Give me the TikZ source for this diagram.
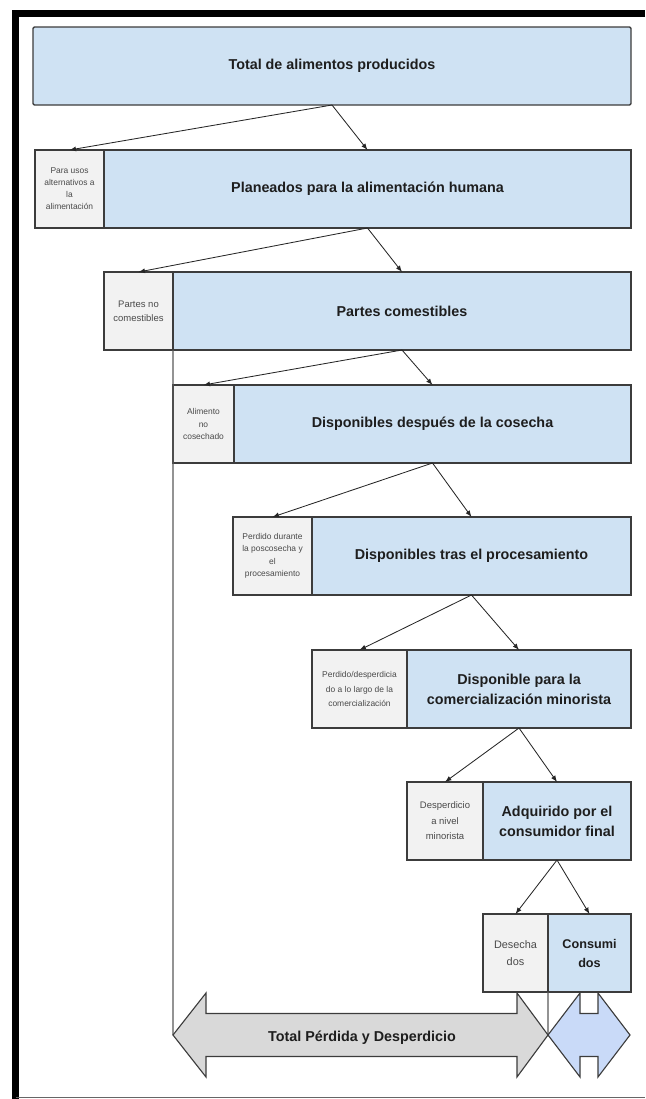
\documentclass[tikz,border=0pt]{standalone}
\usepackage{fontspec}
\setmainfont{Liberation Sans}
\usepackage{xcolor}
\usepackage{tikz}
\usetikzlibrary{arrows.meta,calc,positioning}

\definecolor{boxblue}{HTML}{CFE2F3}
\definecolor{boxgray}{HTML}{F2F2F2}
\definecolor{lossgray}{HTML}{D9D9D9}
\definecolor{eatblue}{HTML}{C9DAF8}
\definecolor{edgegray}{HTML}{3C3C3C}
\definecolor{textdark}{HTML}{1E1E1E}
\definecolor{textgray}{HTML}{4A4A4A}

\begin{document}
\begin{tikzpicture}[>=latex]
\tikzstyle{mainbox}=[rectangle,draw=edgegray,line width=1pt,fill=boxblue,minimum height=1.95cm,
                     inner sep=2pt,outer sep=0pt,align=center,anchor=north west,text=textdark,
                     font=\bfseries\fontsize{10.2}{14.2}\selectfont]
\tikzstyle{lossbox}=[rectangle,draw=edgegray,line width=1pt,fill=boxgray,minimum height=1.95cm,
                     inner sep=1pt,outer sep=0pt,align=center,anchor=north west,text=textgray,
                     font=\fontsize{6}{8.9}\selectfont]
\tikzstyle{arrow}=[->,line width=0.6pt,black!85]
\tikzstyle{rail}=[line width=0.8pt,black!65]

\useasboundingbox (0,0) rectangle (16.125,-27.475);

% --- Frame ---
\draw[line width=5pt,miter limit=10] (16.125,-0.3375) -- (0.3875,-0.3375) -- (0.3875,-27.475);
\draw[line width=0.7pt,black!60] (0.3875,-27.425) -- (16.125,-27.425);

% --- Total ---
\node[mainbox,minimum width=14.95cm,rounded corners=1pt] (total) at (0.825,-0.675) {Total de alimentos producidos};

% --- Planned for humans ---
\node[lossbox,minimum width=1.725cm,font=\fontsize{6}{8.5}\selectfont] (alt) at (0.875,-3.75)
  {Para usos\\alternativos a\\la\\alimentación};
\node[mainbox,minimum width=13.175cm] (planned) at (alt.north east) {Planeados para la alimentación humana};

% --- Edible parts ---
\node[lossbox,minimum width=1.725cm,font=\fontsize{6.75}{10}\selectfont] (inedible) at (2.6,-6.8)
  {Partes no\\comestibles};
\node[mainbox,minimum width=11.45cm] (edible) at (inedible.north east) {Partes comestibles};

% --- After harvest ---
\node[lossbox,minimum width=1.525cm] (unharvested) at (4.325,-9.625)
  {Alimento\\no\\cosechado};
\node[mainbox,minimum width=9.925cm] (harvest) at (unharvested.north east) {Disponibles después de la cosecha};

% --- After processing ---
\node[lossbox,minimum width=1.975cm] (postharvest) at (5.825,-12.925)
  {Perdido durante\\la poscosecha y\\el\\procesamiento};
\node[mainbox,minimum width=7.975cm] (processed) at (postharvest.north east) {Disponibles tras el procesamiento};

% --- Retail ---
\node[lossbox,minimum width=2.375cm,font=\fontsize{6}{10}\selectfont] (distribution) at (7.8,-16.25)
  {Perdido/desperdicia\\do a lo largo de la\\comercialización};
\node[mainbox,minimum width=5.6cm] (retail) at (distribution.north east)
  {Disponible para la\\comercialización minorista};

% --- Consumer ---
\node[lossbox,minimum width=1.9cm,font=\fontsize{6.75}{11}\selectfont] (retailwaste) at (10.175,-19.55)
  {Desperdicio\\a nivel\\minorista};
\node[mainbox,minimum width=3.7cm] (consumer) at (retailwaste.north east)
  {Adquirido por el\\consumidor final};

% --- Final split ---
\node[lossbox,minimum width=1.625cm,font=\fontsize{7.75}{12}\selectfont] (discarded) at (12.075,-22.85)
  {Desecha\\dos};
\node[mainbox,minimum width=2.075cm,font=\bfseries\fontsize{9}{13.5}\selectfont] (eaten) at (discarded.north east)
  {Consumi\\dos};

% --- Arrows ---
\draw[arrow] (total.south) -- (alt.north);
\draw[arrow] (total.south) -- (planned.north);
\draw[arrow] (planned.south) -- (inedible.north);
\draw[arrow] (planned.south) -- (edible.north);
\draw[arrow] (edible.south) -- (unharvested.north);
\draw[arrow] (edible.south) -- (harvest.north);
\draw[arrow] (harvest.south) -- (postharvest.north);
\draw[arrow] (harvest.south) -- (processed.north);
\draw[arrow] (processed.south) -- (distribution.north);
\draw[arrow] (processed.south) -- (retail.north);
\draw[arrow] (retail.south) -- (retailwaste.north);
\draw[arrow] (retail.south) -- (consumer.north);
\draw[arrow] (consumer.south) -- (discarded.north);
\draw[arrow] (consumer.south) -- (eaten.north);

% --- Totals ---
\coordinate (lossL) at (4.325,-25.875);
\coordinate (lossR) at (13.7,-25.875);
\draw[rail] (edible.south west) -- (lossL);
\draw[rail] (eaten.south west) -- (lossR);

\draw[line width=0.8pt,edgegray,fill=lossgray] (lossL) -- (5.15,-24.825) -- (5.15,-25.3375) -- (12.925,-25.3375)
  -- (12.925,-24.825) -- (lossR) -- (12.925,-26.925) -- (12.925,-26.4125) -- (5.15,-26.4125)
  -- (5.15,-26.925) -- cycle;
\node[text=textdark,font=\bfseries\fontsize{10.2}{12}\selectfont] (losslabel) at (9.05,-25.95)
  {Total Pérdida y Desperdicio};

\draw[line width=0.8pt,edgegray,fill=eatblue] (lossR) -- (14.5,-24.825) -- (14.5,-25.3375) -- (14.95,-25.3375)
  -- (14.95,-24.825) -- (15.75,-25.875) -- (14.95,-26.925) -- (14.95,-26.4125) -- (14.5,-26.4125)
  -- (14.5,-26.925) -- cycle;

\end{tikzpicture}
\end{document}
